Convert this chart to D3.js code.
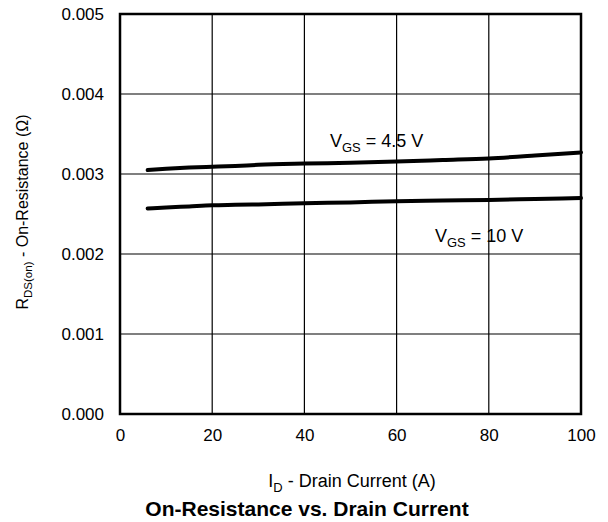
<!DOCTYPE html>
<html><head><meta charset="utf-8">
<script src="https://cdn.jsdelivr.net/npm/d3@7"></script>
<style>body{margin:0;background:#fff}text{font-family:"Liberation Sans",Arial,sans-serif;fill:#000}</style>
</head><body>
<svg id="c" width="608" height="522"></svg>
<script>
const currents = [6, 10, 15, 20, 25, 30, 40, 50, 60, 70, 80, 90, 100];
const rds45 = [0.00305, 0.003065, 0.00308, 0.00309, 0.00310, 0.003115, 0.00313, 0.00314, 0.003155, 0.003175, 0.003195, 0.00323, 0.00327];
const rds10 = [0.00257, 0.00258, 0.002595, 0.00261, 0.002615, 0.00262, 0.002635, 0.002645, 0.00266, 0.002668, 0.002675, 0.002688, 0.0027];
const xTicks = [0, 20, 40, 60, 80, 100];
const yTicks = [0, 0.001, 0.002, 0.003, 0.004, 0.005];

const svg = d3.select("#c");
const L = 120, R = 581, T = 14, B = 414;
const x = d3.scaleLinear().domain([0, 100]).range([L, R]);
const y = d3.scaleLinear().domain([0, 0.005]).range([B, T]);

// grid
svg.append("g").selectAll("line").data(xTicks).join("line")
  .attr("x1", d => x(d)).attr("x2", d => x(d)).attr("y1", T).attr("y2", B)
  .attr("stroke", "#000").attr("stroke-width", 1.2);
svg.append("g").selectAll("line").data(yTicks).join("line")
  .attr("x1", L).attr("x2", R).attr("y1", d => y(d)).attr("y2", d => y(d))
  .attr("stroke", "#000").attr("stroke-width", 1.2);

// axes labels via d3 axes
const xa = svg.append("g").attr("transform", `translate(0,${B})`)
  .call(d3.axisBottom(x).tickValues(xTicks).tickSize(0).tickPadding(15).tickFormat(d3.format("d")));
xa.select(".domain").remove();
xa.selectAll("text").attr("font-size", 17).attr("font-family", "Liberation Sans, Arial, sans-serif");
const ya = svg.append("g").attr("transform", `translate(${L},0)`)
  .call(d3.axisLeft(y).tickValues(yTicks).tickSize(0).tickPadding(16).tickFormat(d3.format(".3f")));
ya.select(".domain").remove();
ya.selectAll("text").attr("font-size", 17).attr("font-family", "Liberation Sans, Arial, sans-serif");

// frame
svg.append("rect").attr("x", L).attr("y", T).attr("width", R - L).attr("height", B - T)
  .attr("fill", "none").attr("stroke", "#000").attr("stroke-width", 2.5);

// curves
const line = d3.line().x((d, i) => x(currents[i])).y(d => y(d)).curve(d3.curveMonotoneX);
[rds45, rds10].forEach(s => {
  svg.append("path").datum(s).attr("d", line).attr("fill", "none")
    .attr("stroke", "#000").attr("stroke-width", 4).attr("stroke-linecap", "round");
});

function sublabel(xp, yp, main, sub, rest, fs, anchor) {
  const t = svg.append("text").attr("x", xp).attr("y", yp).attr("font-size", fs).attr("text-anchor", anchor || "start");
  t.append("tspan").text(main);
  t.append("tspan").attr("font-size", fs * 0.72).attr("dy", fs * 0.25).text(sub);
  t.append("tspan").attr("dy", -fs * 0.25).text(rest);
  return t;
}
sublabel(330, 147, "V", "GS", " = 4.5 V", 18);
sublabel(435, 242, "V", "GS", " = 10 V", 18);

// x title
sublabel(352, 487, "I", "D", " - Drain Current (A)", 18, "middle");
// y title
const yt = sublabel(0, 0, "R", "DS(on)", " - On-Resistance (Ω)", 16, "middle");
yt.attr("transform", "translate(28,212) rotate(-90)");

// chart title
svg.append("text").attr("x", 307).attr("y", 516).attr("text-anchor", "middle")
  .attr("font-size", 21).attr("font-weight", "bold").text("On-Resistance vs. Drain Current");
</script>
</body></html>
